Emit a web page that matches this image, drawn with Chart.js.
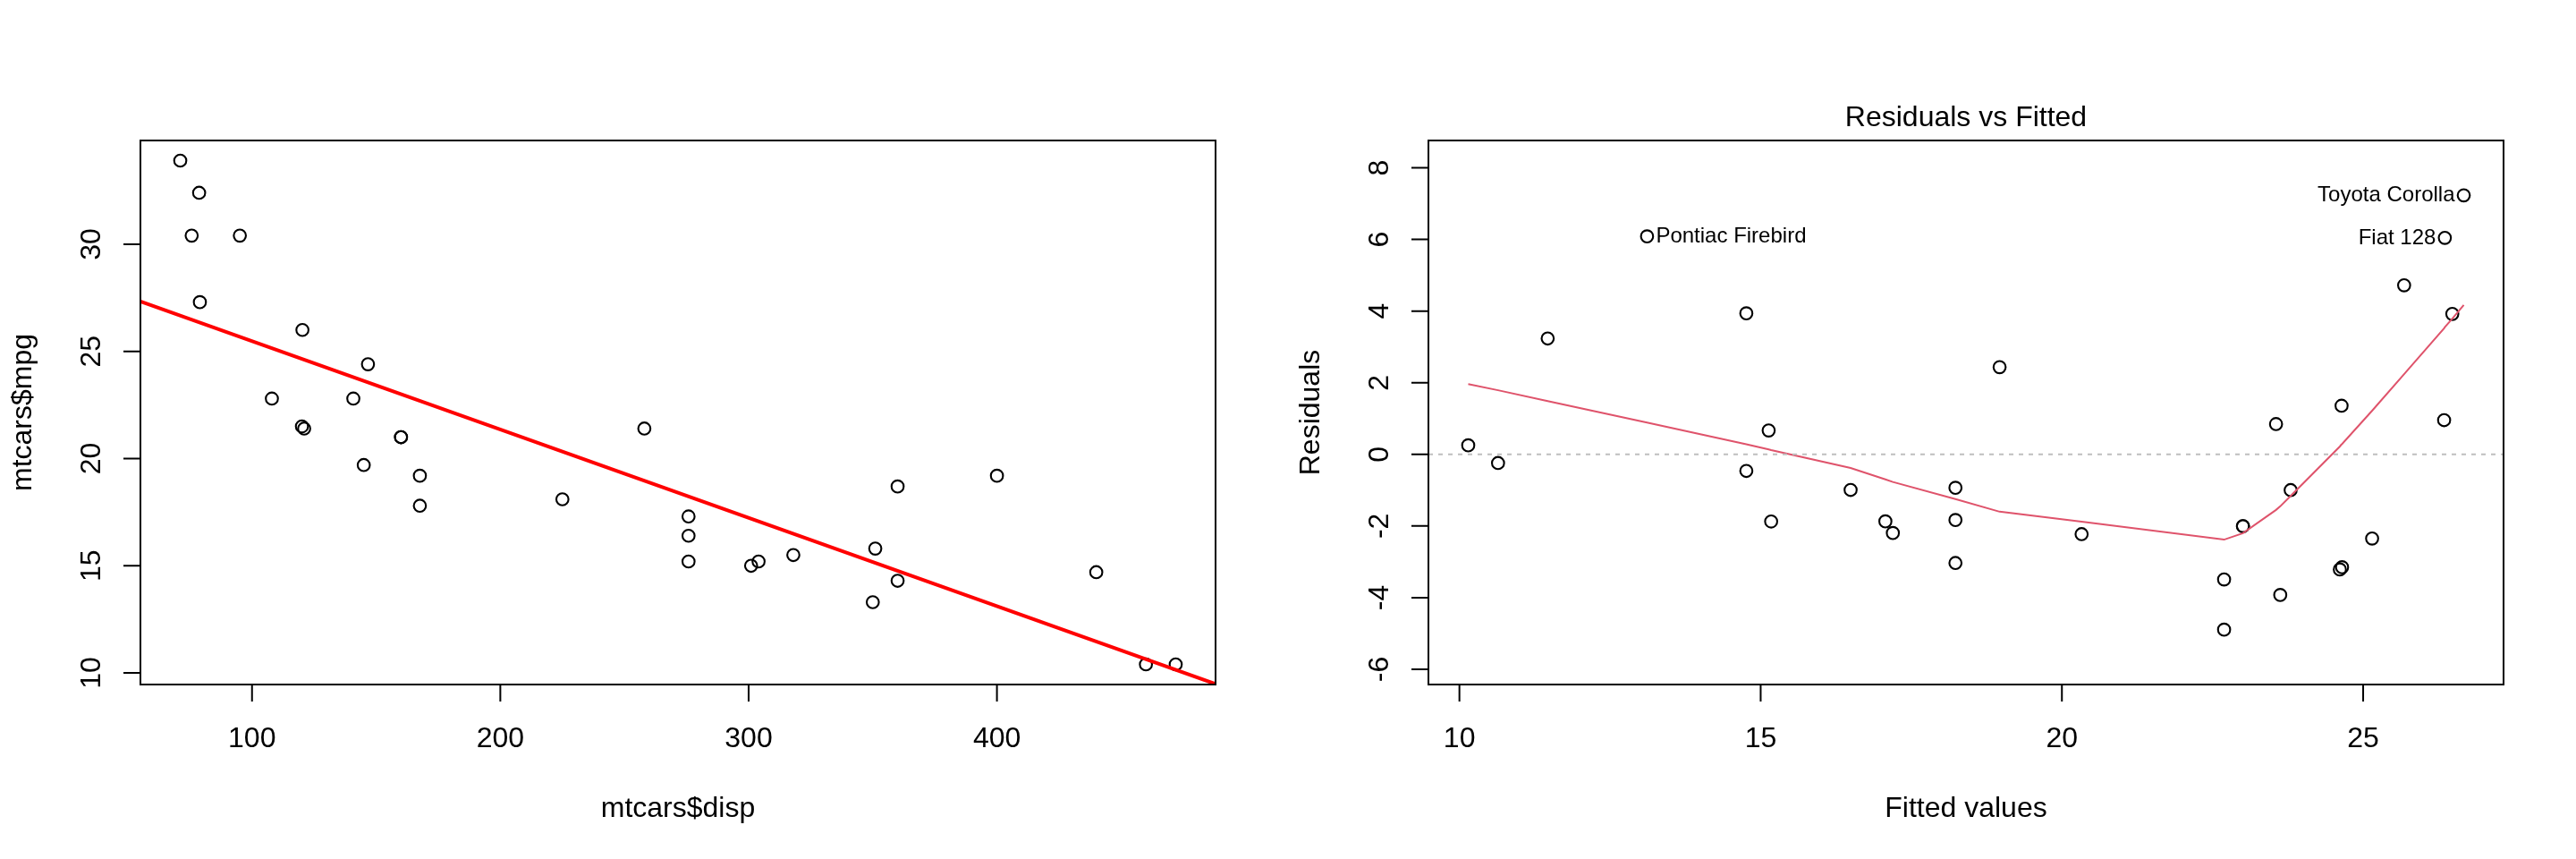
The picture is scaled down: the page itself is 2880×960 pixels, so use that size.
<!DOCTYPE html>
<html>
<head>
<meta charset="utf-8">
<script src="https://cdn.jsdelivr.net/npm/chart.js@4.4.1/dist/chart.umd.min.js"></script>
<style>
  html, body { margin: 0; padding: 0; background: #fff; }
  #wrap { position: relative; width: 2880px; height: 960px; }
  canvas { position: absolute; top: 0; }
  #left { left: 0; }
  #right { left: 1440px; }
</style>
</head>
<body>
<div id="wrap">
  <canvas id="left" width="1440" height="960"></canvas>
  <canvas id="right" width="1440" height="960"></canvas>
</div>
<script>
// mtcars
const carNames = ['Mazda RX4', 'Mazda RX4 Wag', 'Datsun 710', 'Hornet 4 Drive', 'Hornet Sportabout',
  'Valiant', 'Duster 360', 'Merc 240D', 'Merc 230', 'Merc 280', 'Merc 280C', 'Merc 450SE',
  'Merc 450SL', 'Merc 450SLC', 'Cadillac Fleetwood', 'Lincoln Continental', 'Chrysler Imperial',
  'Fiat 128', 'Honda Civic', 'Toyota Corolla', 'Toyota Corona', 'Dodge Challenger', 'AMC Javelin',
  'Camaro Z28', 'Pontiac Firebird', 'Fiat X1-9', 'Porsche 914-2', 'Lotus Europa', 'Ford Pantera L',
  'Ferrari Dino', 'Maserati Bora', 'Volvo 142E'];
const dispValues = [160, 160, 108, 258, 360, 225, 360, 146.7, 140.8, 167.6, 167.6, 275.8, 275.8, 275.8,
  472, 460, 440, 78.7, 75.7, 71.1, 120.1, 318, 304, 350, 400, 79, 120.3, 95.1, 351, 145, 301, 121];
const mpgValues = [21, 21, 22.8, 21.4, 18.7, 18.1, 14.3, 24.4, 22.8, 19.2, 17.8, 16.4, 17.3, 15.2,
  10.4, 10.4, 14.7, 32.4, 30.4, 33.9, 21.5, 15.5, 15.2, 13.3, 19.2, 27.3, 26, 30.4, 15.8, 19.7, 15, 21.4];

// abline(lm(mpg ~ disp)) across the plot region
const fitLineX = [55.06, 488.04];
const fitLineY = [27.331, 9.485];

// residuals vs fitted
const fittedValues = [23.005, 23.005, 25.149, 18.966, 14.762, 20.327, 14.762, 23.554, 23.797, 22.692,
  22.692, 18.233, 18.233, 18.233, 10.146, 10.641, 11.465, 26.356, 26.480, 26.670, 24.650, 16.493,
  17.070, 15.174, 13.114, 26.344, 24.642, 25.680, 15.133, 23.624, 17.194, 24.613];
const residualValues = [-2.005, -2.005, -2.349, 2.434, 3.938, -2.227, -0.462, 0.846, -0.997, -3.492,
  -4.892, -1.833, -0.933, -3.033, 0.254, -0.241, 3.235, 6.044, 3.920, 7.230, -3.150, -0.993,
  -1.870, -1.874, 6.086, 0.956, 1.358, 4.720, 0.667, -3.924, -2.194, -3.213];

// smoother
const smoothX = [10.146, 10.641, 11.465, 13.114, 14.762, 15.133, 15.174, 16.493, 17.070, 17.194,
  18.233, 18.966, 20.327, 22.692, 23.005, 23.554, 23.624, 23.797, 24.613, 24.642, 24.650, 25.149,
  25.680, 26.344, 26.356, 26.480, 26.670];
const smoothY = [1.96, 1.79, 1.49, 0.89, 0.28, 0.14, 0.12, -0.38, -0.70, -0.77,
  -1.25, -1.60, -1.88, -2.38, -2.20, -1.55, -1.45, -1.16, 0.22, 0.28, 0.29, 1.22,
  2.24, 3.52, 3.55, 3.79, 4.17];
const zeroLineX = [9.4855, 27.3304];
const zeroLineY = [0, 0];

const labelNames = ['Toyota Corolla', 'Fiat 128', 'Pontiac Firebird'];
const labelSides = ['left', 'left', 'right'];

// axes
const dispRange = [55.06, 488.04];
const mpgRange = [9.46, 34.84];
const fittedRange = [9.4855, 27.3304];
const residRange = [-6.425, 8.763];
const dispTicks = [100, 200, 300, 400];
const mpgTicks = [10, 15, 20, 25, 30];
const fittedTicks = [10, 15, 20, 25];
const residTicks = [-6, -4, -2, 0, 2, 4, 6, 8];

const FONT = '"Liberation Sans", Arial, Helvetica, sans-serif';

function pts(xs, ys) {
  return xs.map((v, i) => ({ x: v, y: ys[i] }));
}

// box, ticks, labels the way base R draws them
const rFrame = {
  id: 'rFrame',
  afterDraw(chart, args, o) {
    const ctx = chart.ctx;
    const a = chart.chartArea;
    const xs = chart.scales.x, ys = chart.scales.y;
    ctx.save();
    ctx.strokeStyle = '#000';
    ctx.fillStyle = '#000';
    ctx.lineWidth = 2;
    ctx.strokeRect(a.left, a.top, a.right - a.left, a.bottom - a.top);

    ctx.beginPath();
    o.xTicks.forEach(v => {
      const px = xs.getPixelForValue(v);
      ctx.moveTo(px, a.bottom);
      ctx.lineTo(px, a.bottom + 19);
    });
    o.yTicks.forEach(v => {
      const py = ys.getPixelForValue(v);
      ctx.moveTo(a.left, py);
      ctx.lineTo(a.left - 19, py);
    });
    ctx.stroke();

    ctx.font = '32px ' + FONT;
    ctx.textAlign = 'center';
    ctx.textBaseline = 'alphabetic';
    o.xTicks.forEach(v => ctx.fillText(String(v), xs.getPixelForValue(v), a.bottom + 70));
    o.yTicks.forEach(v => {
      ctx.save();
      ctx.translate(a.left - 45, ys.getPixelForValue(v));
      ctx.rotate(-Math.PI / 2);
      ctx.fillText(String(v), 0, 0);
      ctx.restore();
    });

    const cx = (a.left + a.right) / 2;
    ctx.fillText(o.xTitle, cx, a.bottom + 148);
    ctx.save();
    ctx.translate(35, (a.top + a.bottom) / 2);
    ctx.rotate(-Math.PI / 2);
    ctx.fillText(o.yTitle, 0, 0);
    ctx.restore();
    if (o.title) ctx.fillText(o.title, cx, a.top - 16);

    if (o.ids) {
      ctx.font = '24px ' + FONT;
      o.ids.names.forEach((n, k) => {
        const i = carNames.indexOf(n);
        const px = xs.getPixelForValue(fittedValues[i]);
        const py = ys.getPixelForValue(residualValues[i]);
        if (o.ids.sides[k] === 'left') {
          ctx.textAlign = 'right';
          ctx.fillText(n, px - 10, py + 7);
        } else {
          ctx.textAlign = 'left';
          ctx.fillText(n, px + 10, py + 7);
        }
      });
    }
    ctx.restore();
  }
};

function baseOptions(xr, yr, frame) {
  return {
    responsive: false,
    animation: false,
    devicePixelRatio: 1,
    layout: { padding: { top: 157, right: 81, left: 0, bottom: 0 } },
    plugins: {
      legend: { display: false },
      tooltip: { enabled: false },
      rFrame: frame
    },
    scales: {
      x: {
        type: 'linear', min: xr[0], max: xr[1],
        grid: { display: false }, border: { display: false },
        ticks: { display: false },
        afterFit: s => { s.height = 195; }
      },
      y: {
        type: 'linear', min: yr[0], max: yr[1],
        grid: { display: false }, border: { display: false },
        ticks: { display: false },
        afterFit: s => { s.width = 157; }
      }
    }
  };
}

const circleStyle = {
  showLine: false,
  pointStyle: 'circle',
  pointRadius: 6.8,
  pointBorderWidth: 2.1,
  pointBorderColor: '#000',
  pointBackgroundColor: 'rgba(0,0,0,0)'
};

new Chart(document.getElementById('left'), {
  type: 'scatter',
  data: {
    datasets: [
      {
        data: pts(fitLineX, fitLineY),
        showLine: true, borderColor: '#FF0000', borderWidth: 4, pointRadius: 0, tension: 0
      },
      Object.assign({ data: pts(dispValues, mpgValues) }, circleStyle)
    ]
  },
  options: baseOptions(dispRange, mpgRange, {
    xTicks: dispTicks, yTicks: mpgTicks, xTitle: 'mtcars$disp', yTitle: 'mtcars$mpg'
  }),
  plugins: [rFrame]
});

new Chart(document.getElementById('right'), {
  type: 'scatter',
  data: {
    datasets: [
      {
        data: pts(zeroLineX, zeroLineY),
        showLine: true, borderColor: '#BEBEBE', borderWidth: 2, borderDash: [5, 6],
        pointRadius: 0, tension: 0
      },
      {
        data: pts(smoothX, smoothY),
        showLine: true, borderColor: '#DF536B', borderWidth: 2, pointRadius: 0, tension: 0
      },
      Object.assign({ data: pts(fittedValues, residualValues) }, circleStyle)
    ]
  },
  options: baseOptions(fittedRange, residRange, {
    xTicks: fittedTicks, yTicks: residTicks, xTitle: 'Fitted values', yTitle: 'Residuals',
    title: 'Residuals vs Fitted',
    ids: { names: labelNames, sides: labelSides }
  }),
  plugins: [rFrame]
});
</script>
</body>
</html>
